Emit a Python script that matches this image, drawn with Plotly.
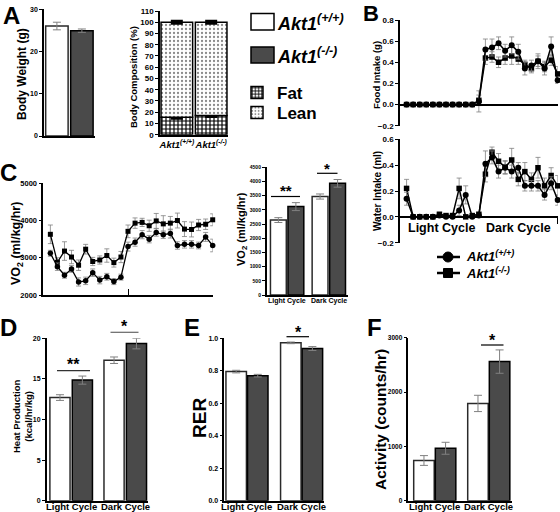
import plotly.graph_objects as go

W, H = 560, 512
FONT = "Liberation Sans, Arial, sans-serif"

# ---------------- data ----------------
genotypes = ["wt", "ko"]
genotype_labels = ["<i>Akt1</i><sup>(+/+)</sup>", "<i>Akt1</i><sup>(-/-)</sup>"]
bw_category = ["bw"]
bw_wt = [26.0]
bw_wt_err = [0.9]
bw_ko = [24.9]
bw_ko_err = [0.4]

comp_fat = [15.5, 17.0]
comp_fat_err = [0.9, 0.8]
comp_lean = [84.5, 83.0]
comp_lean_err = [0.8, 0.8]

hours = [1, 2, 3, 4, 5, 6, 7, 8, 9, 10, 11, 12, 13, 14, 15, 16, 17, 18, 19, 20, 21, 22, 23, 24]

food_wt = [0.0, 0.0, 0.0, 0.0, 0.0, 0.0, 0.0, 0.0, 0.0, 0.0, 0.0, 0.03,
           0.52, 0.54, 0.58, 0.51, 0.56, 0.50, 0.34, 0.37, 0.41, 0.34, 0.55, 0.23]
food_wt_err = [0.01, 0.01, 0.01, 0.01, 0.01, 0.01, 0.01, 0.01, 0.01, 0.01, 0.01, 0.10,
               0.10, 0.08, 0.06, 0.06, 0.08, 0.07, 0.06, 0.05, 0.05, 0.06, 0.09, 0.03]
food_ko = [0.0, 0.0, 0.0, 0.0, 0.0, 0.0, 0.0, 0.0, 0.0, 0.0, 0.0, 0.04,
           0.44, 0.45, 0.40, 0.44, 0.46, 0.43, 0.38, 0.34, 0.41, 0.36, 0.42, 0.29]
food_ko_err = [0.01, 0.01, 0.01, 0.01, 0.01, 0.01, 0.01, 0.01, 0.01, 0.01, 0.01, 0.05,
               0.06, 0.05, 0.05, 0.06, 0.08, 0.05, 0.04, 0.04, 0.07, 0.05, 0.05, 0.07]

water_wt = [0.14, 0.0, 0.0, 0.0, 0.0, 0.01, 0.0, 0.0, 0.05, 0.17, 0.0, 0.01,
            0.41, 0.46, 0.35, 0.38, 0.35, 0.38, 0.24, 0.24, 0.24, 0.17, 0.26, 0.13]
water_wt_err = [0.05, 0.005, 0.005, 0.005, 0.005, 0.01, 0.005, 0.005, 0.04, 0.07, 0.005, 0.01,
                0.10, 0.05, 0.05, 0.05, 0.05, 0.04, 0.04, 0.04, 0.04, 0.04, 0.05, 0.04]
water_ko = [0.22, 0.0, 0.0, 0.0, 0.0, 0.02, 0.01, 0.01, 0.22, 0.0, 0.01, 0.02,
            0.33, 0.50, 0.43, 0.385, 0.44, 0.29, 0.35, 0.29, 0.38, 0.24, 0.32, 0.24]
water_ko_err = [0.07, 0.005, 0.005, 0.005, 0.005, 0.01, 0.005, 0.005, 0.08, 0.005, 0.005, 0.01,
                0.06, 0.04, 0.06, 0.05, 0.09, 0.05, 0.07, 0.05, 0.08, 0.06, 0.06, 0.08]

vo2_wt = [3120, 2760, 2530, 2700, 2350, 2380, 2600, 2400, 2490, 2360, 2480, 3300,
          3420, 3620, 3500, 3680, 3620, 3650, 3330, 3360, 3360, 3330, 3560, 3330]
vo2_wt_err = [80, 100, 80, 90, 110, 100, 100, 100, 90, 80, 80, 120,
              110, 110, 100, 100, 100, 120, 100, 100, 100, 90, 120, 170]
vo2_ko = [3630, 2880, 3180, 3020, 2800, 3230, 2900, 2940, 3060, 2870, 3020, 3710,
          3930, 3950, 3860, 3990, 3910, 3930, 4000, 3770, 3760, 3880, 3900, 4020]
vo2_ko_err = [250, 120, 250, 180, 140, 130, 110, 110, 180, 120, 150, 170,
              140, 110, 150, 200, 220, 180, 200, 200, 200, 150, 140, 160]

cycles = ["Light Cycle", "Dark Cycle"]
vo2_bar_wt = [2640, 3470]
vo2_bar_wt_err = [85, 90]
vo2_bar_ko = [3115, 3935]
vo2_bar_ko_err = [140, 135]

heat_wt = [12.7, 17.3]
heat_wt_err = [0.35, 0.4]
heat_ko = [14.85, 19.35]
heat_ko_err = [0.5, 0.65]

rer_wt = [0.795, 0.972]
rer_wt_err = [0.008, 0.005]
rer_ko = [0.77, 0.937]
rer_ko_err = [0.008, 0.012]

act_wt = [740, 1790]
act_wt_err = [90, 150]
act_ko = [965, 2560]
act_ko_err = [110, 215]

# ---------------- helpers ----------------
def px(x):
    return x / W


def py(y):
    return 1 - y / H


DARK = "#4a4a4a"
EDGE = "#2a2a2a"
ERR = "#808080"

fig = go.Figure()
layout = {}


def ax_names(n):
    return ("x" if n == 1 else f"x{n}", "y" if n == 1 else f"y{n}",
            "xaxis" if n == 1 else f"xaxis{n}", "yaxis" if n == 1 else f"yaxis{n}")


def axis_base(size):
    return dict(showline=True, linecolor="black", linewidth=1.5, showgrid=False,
                zeroline=False, ticks="outside", ticklen=3, tickwidth=1,
                tickcolor="black", tickangle=0, automargin=False,
                tickfont=dict(family=FONT, size=size, color="black", weight="bold"))


def setup(n, x0, x1, ytop, ybot, xr, yr, ytick_size, yticks, xcfg=None, ycfg=None):
    xn, yn, xk, yk = ax_names(n)
    xa = axis_base(9)
    xa.update(domain=[px(x0), px(x1)], anchor=yn, range=xr, ticks="",
              showticklabels=False)
    if xcfg:
        xa.update(xcfg)
    ya = axis_base(ytick_size)
    ya.update(domain=[py(ybot), py(ytop)], anchor=xn, range=yr, tickvals=yticks)
    if ycfg:
        ya.update(ycfg)
    layout[xk] = xa
    layout[yk] = ya
    return xn, yn


def err(arr, color=ERR, width=4, thick=1):
    return dict(type="data", array=arr, color=color, thickness=thick, width=width, visible=True)


def pair_bars(xn, yn, wt, wt_e, ko, ko_e, w, off_w, off_k, cats):
    fig.add_trace(go.Bar(x=cats, y=wt, error_y=err(wt_e), width=w, offset=off_w,
                         marker=dict(color="white", line=dict(color=EDGE, width=1.5)),
                         xaxis=xn, yaxis=yn, showlegend=False))
    fig.add_trace(go.Bar(x=cats, y=ko, error_y=err(ko_e), width=w, offset=off_k,
                         marker=dict(color=DARK, line=dict(color="black", width=1.5)),
                         xaxis=xn, yaxis=yn, showlegend=False))


annotations = []
shapes = []


def text(x, y, s, size, angle=0, xanchor="center", yanchor="middle", bold=True, italic=False):
    annotations.append(dict(x=px(x), y=py(y), xref="paper", yref="paper", text=s,
                            showarrow=False, textangle=angle, xanchor=xanchor,
                            yanchor=yanchor,
                            font=dict(family=FONT, size=size, color="black",
                                      weight="bold" if bold else "normal",
                                      style="italic" if italic else "normal")))


def cycle_labels(xn, y, size):
    for c in cycles:
        annotations.append(dict(x=c, y=py(y), xref=xn, yref="paper", text=c,
                                showarrow=False, xanchor="center", yanchor="middle",
                                font=dict(family=FONT, size=size, color="black",
                                          weight="bold")))


def hline(x0, x1, y, color="black", width=1.2):
    shapes.append(dict(type="line", xref="paper", yref="paper", x0=px(x0), x1=px(x1),
                       y0=py(y), y1=py(y), line=dict(color=color, width=width)))


# ---------------- Panel A: body weight ----------------
xn, yn = setup(1, 44, 95, 9.1, 136, [-0.5, 0.5], [0, 30], 7, [0, 10, 20, 30])
pair_bars(xn, yn, bw_wt, bw_wt_err, bw_ko, bw_ko_err, 0.44, -0.467, 0.023, bw_category)
text(22, 74, "Body Weight (g)", 12, angle=-90)

# ---------------- Panel A: body composition ----------------
xn, yn = setup(2, 160, 228, 11, 134.7, [-0.49, 1.49], [0, 110], 8,
               [0, 10, 20, 30, 40, 50, 60, 70, 80, 90, 100, 110],
               xcfg=dict(showticklabels=True, tickangle=0, tickvals=genotypes,
                         ticktext=genotype_labels,
                         tickfont=dict(family=FONT, size=9.5, color="black", weight="bold",
                                       style="italic")))
fig.add_trace(go.Bar(x=genotypes, y=comp_fat, name="Fat", width=0.92, offset=-0.46,
                     error_y=err(comp_fat_err, color="black", width=6, thick=3),
                     marker=dict(color="white", line=dict(color="black", width=1.5),
                                 pattern=dict(shape="+", fgcolor="black", bgcolor="white",
                                              size=4, solidity=0.5, fillmode="replace")),
                     xaxis=xn, yaxis=yn, showlegend=True, legend="legend"))
fig.add_trace(go.Bar(x=genotypes, y=comp_lean, base=comp_fat, name="Lean", width=0.92,
                     offset=-0.46,
                     error_y=err(comp_lean_err, color="black", width=6, thick=3),
                     marker=dict(color="white", line=dict(color="black", width=1.5),
                                 pattern=dict(shape=".", fgcolor="#8a8a8a", bgcolor="white",
                                              size=4, solidity=0.25, fillmode="replace")),
                     xaxis=xn, yaxis=yn, showlegend=True, legend="legend2"))
text(133, 77, "Body Composition (%)", 9.5, angle=-90)

# legend boxes for genotypes
shapes.append(dict(type="rect", xref="paper", yref="paper", x0=px(251), x1=px(274),
                   y0=py(30), y1=py(13.5), fillcolor="white",
                   line=dict(color="black", width=1.5)))
shapes.append(dict(type="rect", xref="paper", yref="paper", x0=px(251), x1=px(274),
                   y0=py(63), y1=py(47), fillcolor=DARK,
                   line=dict(color="black", width=1.5)))
text(275, 22, "<i>Akt1</i><sup>(+/+)</sup>", 18, xanchor="left", italic=True)
text(275, 55, "<i>Akt1</i><sup>(-/-)</sup>", 18, xanchor="left", italic=True)

# ---------------- Panel B: food intake ----------------
food_dom = (20, 125.7)
food_zero = py(food_dom[1]) + (py(food_dom[0]) - py(food_dom[1])) * (0.2 / 1.0)
xn, yn = setup(3, 400, 557.7, food_dom[0], food_dom[1], [0, 24], [-0.2, 0.8], 8,
               [-0.2, 0.0, 0.2, 0.4, 0.6, 0.8],
               xcfg=dict(anchor="free", position=food_zero, ticks="inside", ticklen=6,
                         tickvals=[24]),
               ycfg=dict(tickformat=".1f"))
for ys, es, sym, sz in [(food_ko, food_ko_err, "square", 5.5), (food_wt, food_wt_err, "circle", 6)]:
    fig.add_trace(go.Scatter(x=hours, y=ys, mode="lines+markers",
                             line=dict(color="black", width=1.5),
                             marker=dict(symbol=sym, size=sz, color="black"),
                             error_y=err(es, width=2.5, thick=0.8),
                             xaxis=xn, yaxis=yn, showlegend=False, cliponaxis=False))
text(376, 75, "Food Intake (g)", 9.5, angle=-90)

# ---------------- Panel B: water intake ----------------
water_dom = (139.3, 242.7)
water_zero = py(water_dom[1]) + (py(water_dom[0]) - py(water_dom[1])) * (0.2 / 0.8)
xn, yn = setup(4, 400, 557.7, water_dom[0], water_dom[1], [0, 24], [-0.2, 0.6], 8,
               [-0.2, 0.0, 0.2, 0.4, 0.6],
               xcfg=dict(anchor="free", position=water_zero, ticks="outside", ticklen=6,
                         tickvals=[24]),
               ycfg=dict(tickformat=".1f"))
for ys, es, sym, sz in [(water_ko, water_ko_err, "square", 5.5), (water_wt, water_wt_err, "circle", 6)]:
    fig.add_trace(go.Scatter(x=hours, y=ys, mode="lines+markers",
                             line=dict(color="black", width=1.5),
                             marker=dict(symbol=sym, size=sz, color="black"),
                             error_y=err(es, width=2.5, thick=0.8),
                             xaxis=xn, yaxis=yn, showlegend=False, cliponaxis=False))
text(377, 191, "Water Intake (ml)", 10, angle=-90)
text(441, 228, "Light Cycle", 12.5)
text(518, 228, "Dark Cycle", 12.5)

# legend B
for yy, sym in [(257, "circle"), (273, "square")]:
    hline(437, 460, yy, width=2.5)
    if sym == "circle":
        shapes.append(dict(type="circle", xref="paper", yref="paper", x0=px(443), x1=px(453),
                           y0=py(yy + 5), y1=py(yy - 5), fillcolor="black",
                           line=dict(color="black", width=1)))
    else:
        shapes.append(dict(type="rect", xref="paper", yref="paper", x0=px(443.5), x1=px(452.5),
                           y0=py(yy + 4.5), y1=py(yy - 4.5), fillcolor="black",
                           line=dict(color="black", width=1)))
text(464, 256, "<i>Akt1</i><sup>(+/+)</sup>", 13, xanchor="left", italic=True)
text(464, 273, "<i>Akt1</i><sup>(-/-)</sup>", 13, xanchor="left", italic=True)

# ---------------- Panel C: VO2 time course ----------------
xn, yn = setup(5, 43.3, 212.7, 183.3, 295, [0, 24], [2000, 5000], 7.5,
               [2000, 3000, 4000, 5000],
               xcfg=dict(ticks="inside", ticklen=6, tickvals=[12, 24]))
for ys, es, sym, sz in [(vo2_ko, vo2_ko_err, "square", 5), (vo2_wt, vo2_wt_err, "circle", 5.5)]:
    fig.add_trace(go.Scatter(x=hours, y=ys, mode="lines+markers",
                             line=dict(color="black", width=1.3),
                             marker=dict(symbol=sym, size=sz, color="black"),
                             error_y=err(es, width=2.5, thick=0.8),
                             xaxis=xn, yaxis=yn, showlegend=False, cliponaxis=False))
text(17, 244, "VO<sub>2</sub> (ml/kg/hr)", 12.5, angle=-90)

# ---------------- Panel C: VO2 bars ----------------
xn, yn = setup(6, 266.7, 348, 167.3, 295, [-0.49, 1.46], [0, 4500], 5,
               [0, 500, 1000, 1500, 2000, 2500, 3000, 3500, 4000, 4500])
pair_bars(xn, yn, vo2_bar_wt, vo2_bar_wt_err, vo2_bar_ko, vo2_bar_ko_err, 0.38, -0.40, 0.02, cycles)
cycle_labels(xn, 300.5, 7)
text(242, 229, "VO<sub>2</sub> (ml/kg/hr)", 11, angle=-90)
hline(271, 300, 196.5)
text(285.5, 190, "**", 15)
hline(317, 337.5, 173.3)
text(327, 168, "*", 15)

# ---------------- Panel D: heat production ----------------
xn, yn = setup(7, 46.7, 148, 338.3, 500.7, [-0.453, 1.42], [0, 20], 7,
               [0, 5, 10, 15, 20])
pair_bars(xn, yn, heat_wt, heat_wt_err, heat_ko, heat_ko_err, 0.373, -0.394, 0.02, cycles)
cycle_labels(xn, 506.5, 9.5)
text(22, 416, "Heat Production<br>(kcal/hr/kg)", 9.5, angle=-90)
hline(57, 90, 370.7, color="#333")
text(73.5, 364, "**", 16)
hline(110.5, 138.5, 332.3, color="#666")
text(124.5, 326, "*", 16)

# ---------------- Panel E: RER ----------------
xn, yn = setup(8, 224.3, 324, 338.3, 500.7, [-0.415, 1.41], [0, 1.0], 7,
               [0, 0.2, 0.4, 0.6, 0.8, 1.0], ycfg=dict(tickformat=".1f"))
pair_bars(xn, yn, rer_wt, rer_wt_err, rer_ko, rer_ko_err, 0.375, -0.385, 0.01, cycles)
cycle_labels(xn, 506.5, 9.5)
text(199, 418, "RER", 19, angle=-90)
hline(286.5, 309, 336.7)
text(298, 332, "*", 16)

# ---------------- Panel F: activity ----------------
xn, yn = setup(9, 408.3, 512, 337.7, 500.7, [-0.49, 1.43], [0, 3000], 6.5,
               [0, 1000, 2000, 3000])
pair_bars(xn, yn, act_wt, act_wt_err, act_ko, act_ko_err, 0.38, -0.39, 0.01, cycles)
cycle_labels(xn, 506.5, 9.5)
text(380, 420, "Activity (counts/hr)", 15.5, angle=-90)
hline(481, 503.5, 345)
text(492, 340, "*", 16)

# ---------------- panel letters ----------------
for letter, x, y, s in [("A", 11, 15, 24), ("B", 371, 13, 22), ("C", 8, 172, 24),
                        ("D", 8, 327, 24), ("E", 192, 327, 24), ("F", 374, 327, 24)]:
    text(x, y, letter, s)

legend_style = dict(xanchor="left", yanchor="top",
                    font=dict(family=FONT, size=17, color="black", weight="bold"),
                    bgcolor="rgba(0,0,0,0)", traceorder="normal", tracegroupgap=0)
layout.update(
    template="none",
    width=W, height=H, margin=dict(l=0, r=0, t=0, b=0, pad=0, autoexpand=False),
    paper_bgcolor="white", plot_bgcolor="white",
    barmode="overlay", showlegend=True,
    legend=dict(x=px(237), y=py(75), **legend_style),
    legend2=dict(x=px(237), y=py(95), **legend_style),
    annotations=annotations, shapes=shapes,
    font=dict(family=FONT, color="black"),
)
fig.update_layout(**layout)
fig.write_html("out.html", config={"displayModeBar": False},
               post_script="document.body.style.margin='0';document.body.style.padding='0';")
